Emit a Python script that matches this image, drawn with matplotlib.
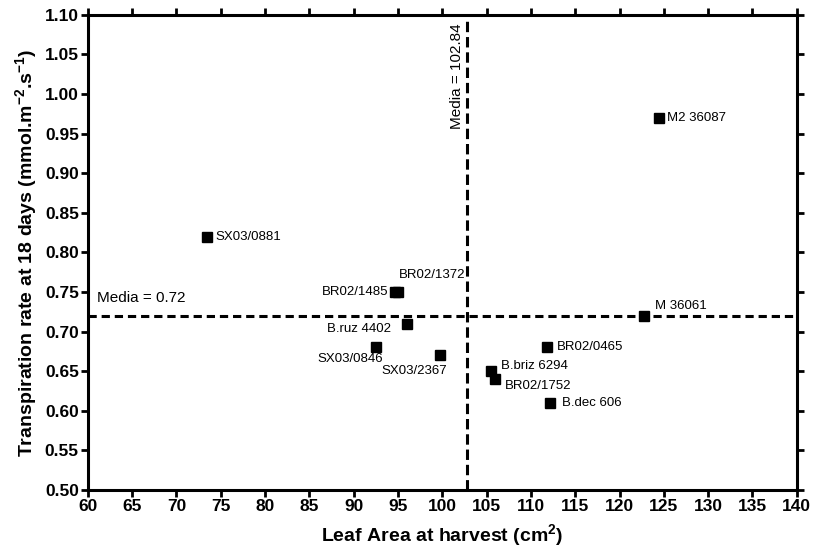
import matplotlib
matplotlib.use('Agg')
import matplotlib.pyplot as plt

# Leaf area (cm2) and transpiration rate (mmol.m-2.s-1) per accession
accessions = ['SX03/0881', 'M2 36087', 'BR02/1485', 'BR02/1372', 'B.ruz 4402',
              'SX03/0846', 'SX03/2367', 'M 36061', 'BR02/0465', 'B.briz 6294',
              'BR02/1752', 'B.dec 606']
leaf_area = [73.5, 124.5, 94.7, 95.0, 96.0, 92.5, 99.8, 122.8, 111.8, 105.5, 106.0, 112.2]
transpiration = [0.82, 0.97, 0.75, 0.75, 0.71, 0.68, 0.67, 0.72, 0.68, 0.65, 0.64, 0.61]
mean_area = 102.84
mean_transp = 0.72

# label offsets in pixels and alignment
label_offsets = [(8, 0, 'left'), (8, 0, 'left'), (-7, 0, 'right'), (1, 17, 'left'),
                 (-16, -5, 'right'), (7, -12, 'right'), (7, -16, 'right'),
                 (11, 10, 'left'), (10, 0, 'left'), (10, 5, 'left'),
                 (9, -7, 'left'), (12, 0, 'left')]

plt.rcParams['font.family'] = ['Liberation Sans', 'DejaVu Sans']
plt.rcParams['mathtext.fontset'] = 'custom'
plt.rcParams['mathtext.bf'] = 'Liberation Sans:bold'
plt.rcParams['mathtext.rm'] = 'Liberation Sans:bold'
plt.rcParams['mathtext.default'] = 'bf'

fig = plt.figure(figsize=(8.13, 5.59), dpi=100)
ax = fig.add_axes([0.108, 0.1234, 0.872, 0.850])

ax.plot(leaf_area, transpiration, 's', color='black', markersize=7, zorder=3)
for name, x, y, (dx, dy, ha) in zip(accessions, leaf_area, transpiration, label_offsets):
    ax.annotate(name, (x, y), xytext=(dx, dy), textcoords='offset pixels',
                ha=ha, va='center', fontsize=9.5)

# mean lines
ax.axvline(mean_area, color='black', lw=2.2, ls=(0, (3.4, 1.6)), zorder=2)
ax.axhline(mean_transp, color='black', lw=2.2, ls=(0, (2.7, 1.6)), zorder=2)
ax.text(101.7, 1.022, f'Media = {mean_area}', rotation=90, ha='center', va='center', fontsize=11)
ax.text(61, 0.742, f'Media = {mean_transp}', ha='left', va='center', fontsize=11)

ax.set_xlim(60, 140)
ax.set_ylim(0.50, 1.10)
ax.set_xticks(range(60, 141, 5))
ax.set_yticks([0.50 + 0.05 * i for i in range(13)])
ax.set_yticklabels([f'{0.50 + 0.05 * i:.2f}' for i in range(13)])
ax.tick_params(direction='out', length=5, width=2, labelsize=12.5,
               top=True, right=True, pad=1.5)
for lbl in ax.get_xticklabels() + ax.get_yticklabels():
    lbl.set_fontweight('bold')
for sp in ax.spines.values():
    sp.set_linewidth(2.2)

ax.set_xlabel(r'Leaf Area at harvest (cm$^{2}$)', fontsize=14, fontweight='bold', labelpad=6)
ax.set_ylabel(r'Transpiration rate at 18 days (mmol.m$^{-2}$.s$^{-1}$)', fontsize=14,
              fontweight='bold', labelpad=4)

fig.savefig('out.png', dpi=100)
